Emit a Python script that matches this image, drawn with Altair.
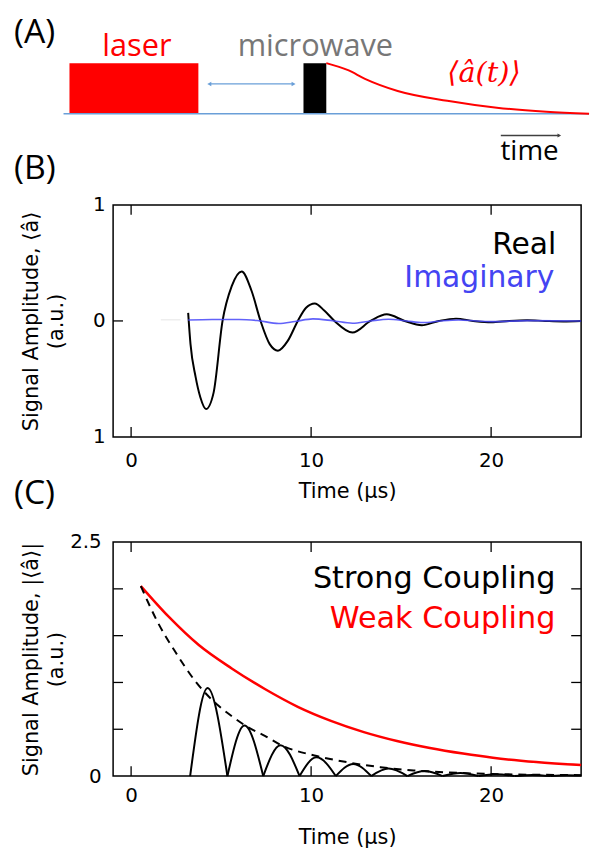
import altair as alt
import pandas as pd

# ---------------- Panel A : schematic pulse sequence (schematic time units) ----------------
pulse_names = ["laser", "microwave"]
pulse_start = [0.6, 24.2]
pulse_end = [13.6, 26.5]
pulse_top = [1.0, 1.0]
pulse_colors = ["#ff0000", "#000000"]
axis_span = [0.0, 53.0]
wait_span = [14.7, 23.2]
wait_level = [0.588]
decay_t = [26.5, 28.7, 30.4, 33.7, 38.7, 43.7, 48.7, 53.0]
decay_v = [1.0, 0.86, 0.69, 0.45, 0.255, 0.118, 0.04, 0.0]
time_arrow_span = [44.1, 50.0]
time_arrow_level = [-0.431]

# ---------------- Panel B : real / imaginary signal ----------------
real_t = [3.17, 3.30, 3.58, 3.85, 4.16, 4.58, 5.08, 5.59, 6.14, 6.69, 7.19, 7.70, 8.16,
          8.71, 9.26, 9.72, 10.2, 10.73, 11.3, 12.3, 13.3, 14.2, 15.2, 16.15, 17.1,
          18.05, 19.0, 20.0, 21.0, 22.0, 23.0, 24.0, 25.0]
real_v = [0.07, -0.20, -0.48, -0.66, -0.76, -0.62, 0.0, 0.30, 0.427, 0.26, 0.0, -0.20, -0.256,
          -0.17, 0.0, 0.114, 0.151, 0.09, 0.0, -0.10, 0.0, 0.057, 0.0, -0.037, 0.0,
          0.02, 0.0, -0.012, 0.0, 0.006, 0.0, -0.004, 0.0]
imag_t = [3.17, 4.5, 6.0, 7.0, 8.2, 9.1, 10.1, 11.2, 12.3, 13.3, 14.3, 15.3, 16.2,
          17.2, 18.2, 19.2, 20.2, 22.0, 25.0]
imag_v = [0.008, 0.012, 0.013, 0.004, -0.022, -0.005, 0.018, 0.002, -0.02, 0.0, 0.015, 0.0,
          -0.014, 0.0, 0.008, 0.0, -0.006, 0.003, 0.0]
trace_t = [1.65, 2.75]
trace_v = [0.01, 0.01]

# ---------------- Panel C : |<a>| strong vs weak coupling ----------------
weak_t = [0.54, 2.1, 3.76, 5.59, 7.43, 9.26, 11.1, 12.93, 14.77, 16.6, 18.44, 20.1, 22.5, 25.0]
weak_v = [2.03, 1.70, 1.40, 1.15, 0.93, 0.74, 0.59, 0.47, 0.375, 0.30, 0.24, 0.195, 0.15, 0.117]
env_t = [0.54, 1.46, 2.48, 3.58, 4.86, 5.59, 6.51, 7.43, 8.34, 10.18, 12.0, 13.85, 15.7,
         18.4, 20.1, 22.5, 25.0]
env_v = [2.03, 1.65, 1.32, 1.01, 0.75, 0.64, 0.52, 0.43, 0.33, 0.22, 0.148, 0.095, 0.06,
         0.032, 0.022, 0.014, 0.01]
strong_zero_t = [3.28, 5.35, 7.34, 9.36, 11.37, 13.34, 15.35, 17.3, 19.3, 21.3, 23.3, 25.0]
strong_zero_v = [0.0] * 11 + [0.005]
strong_peak_t = [4.25, 6.3, 8.3, 10.3, 12.34, 14.3, 16.3, 18.3, 20.3, 22.3, 24.2]
strong_peak_v = [0.94, 0.54, 0.33, 0.20, 0.13, 0.08, 0.053, 0.033, 0.02, 0.012, 0.008]

x_ticks = [0, 10, 20]
b_y_labels = [-1, 0, 1]
c_y_labels = [0, 2.5]
c_y_minor = [0.5, 1.0, 1.5, 2.0]

# ---------------- layout constants ----------------
W = 472
HA, HB, HC = 89, 234, 236
SANS = "DejaVu Sans"
LBL = "Open Sans"
BLUE_LINE = "#6a9fd8"

# ================= Panel A =================
xA = alt.Scale(domain=[5, 52.2], nice=False, zero=False)
yA = alt.Scale(domain=[0.2745, 2.0196], nice=False, zero=False)

pulses = pd.DataFrame({"name": pulse_names, "start": pulse_start, "end": pulse_end,
                       "top": pulse_top, "base": [0.0] * len(pulse_names)})
rects = alt.Chart(pulses).mark_rect(clip=False).encode(
    x=alt.X("start:Q", scale=xA, axis=None), x2="end:Q",
    y=alt.Y("base:Q", scale=yA, axis=None), y2="top:Q",
    color=alt.Color("name:N", scale=alt.Scale(domain=pulse_names, range=pulse_colors), legend=None),
)
base_df = pd.DataFrame({"a": [axis_span[0]], "b": [axis_span[1]], "y": [0.0]})
baseline = alt.Chart(base_df).mark_rule(color=BLUE_LINE, strokeWidth=1.5, clip=False).encode(
    x=alt.X("a:Q", scale=xA, axis=None), x2="b:Q", y=alt.Y("y:Q", scale=yA, axis=None))
wait_df = pd.DataFrame({"a": [wait_span[0]], "b": [wait_span[1]], "y": wait_level})
wait_rule = alt.Chart(wait_df).mark_rule(color=BLUE_LINE, strokeWidth=1.2, clip=False).encode(
    x=alt.X("a:Q", scale=xA, axis=None), x2="b:Q", y=alt.Y("y:Q", scale=yA, axis=None))
heads_df = pd.DataFrame({"u": wait_span, "y": wait_level * 2, "shape": ["triangle-left", "triangle-right"]})
wait_heads = alt.Chart(heads_df).mark_point(filled=True, size=22, color=BLUE_LINE, opacity=1, clip=False).encode(
    x=alt.X("u:Q", scale=xA, axis=None), y=alt.Y("y:Q", scale=yA, axis=None),
    shape=alt.Shape("shape:N", scale=None))
decay_df = pd.DataFrame({"u": decay_t, "v": decay_v})
decay = alt.Chart(decay_df).mark_line(color="#ff0000", strokeWidth=2, interpolate="monotone", clip=False).encode(
    x=alt.X("u:Q", scale=xA, axis=None), y=alt.Y("v:Q", scale=yA, axis=None))
tarrow_df = pd.DataFrame({"a": [time_arrow_span[0]], "b": [time_arrow_span[1]], "y": time_arrow_level})
tarrow = alt.Chart(tarrow_df).mark_rule(color="#404040", strokeWidth=1.5, clip=False).encode(
    x=alt.X("a:Q", scale=xA, axis=None), x2="b:Q", y=alt.Y("y:Q", scale=yA, axis=None))
thead_df = pd.DataFrame({"u": [time_arrow_span[1]], "y": time_arrow_level})
thead = alt.Chart(thead_df).mark_point(filled=True, size=18, color="#404040", opacity=1,
                                       shape="triangle-right", clip=False).encode(
    x=alt.X("u:Q", scale=xA, axis=None), y=alt.Y("y:Q", scale=yA, axis=None))


def a_text(label, u, v, **kw):
    df = pd.DataFrame({"label": [label], "u": [u], "v": [v]})
    return alt.Chart(df).mark_text(clip=False, **kw).encode(
        x=alt.X("u:Q", scale=xA, axis=None), y=alt.Y("v:Q", scale=yA, axis=None), text="label:N")


txtA = a_text("(A)", -5, 1.60, font=LBL, fontSize=34, align="left", baseline="middle", color="black")
txt_laser = a_text("laser", 7.4, 1.137, font=LBL, fontSize=31, align="center", baseline="alphabetic", color="#ff0000")
txt_mw = a_text("microwave", 25.4, 1.137, font=LBL, fontSize=31, align="center", baseline="alphabetic", color="#777777")
txt_a = a_text("⟨â(t)⟩", 42.4, 0.80, font="DejaVu Serif", fontStyle="italic", fontSize=29,
               align="center", baseline="middle", color="#ff0000")
txt_time = a_text("time", 47.0, -0.92, font=LBL, fontSize=28, align="center", baseline="alphabetic", color="black")

panelA = alt.layer(rects, baseline, wait_rule, wait_heads, decay, tarrow, thead,
                   txtA, txt_laser, txt_mw, txt_a, txt_time).properties(
    width=W, height=HA, view=alt.ViewBackground(strokeOpacity=0))

# ================= shared helpers for B and C =================
xBC = alt.Scale(domain=[-1, 25], nice=False, zero=False)


def x_axis(pad, ty):
    return alt.Axis(values=x_ticks, title="Time (μs)", domain=False, ticks=False, grid=False,
                    labelPadding=pad, titleY=ty, titleBaseline="middle")


def px_text(label, x, y, **kw):
    df = pd.DataFrame({"label": [label]})
    return alt.Chart(df).mark_text(clip=False, **kw).encode(x=alt.value(x), y=alt.value(y), text="label:N")


def x_tick_layers(h, xax):
    df = pd.DataFrame({"t": x_ticks})
    top = alt.Chart(df).mark_rule(color="black", strokeWidth=1.3).encode(
        x=alt.X("t:Q", scale=xBC, axis=xax), y=alt.value(0), y2=alt.value(10))
    bot = alt.Chart(df).mark_rule(color="black", strokeWidth=1.3).encode(
        x=alt.X("t:Q", scale=xBC, axis=xax), y=alt.value(h), y2=alt.value(h - 10))
    return [top, bot]


# ================= Panel B =================
yB = alt.Scale(domain=[-1, 1], nice=False, zero=False)
xB_axis = x_axis(14, 55)
yB_axis = alt.Axis(values=b_y_labels, labelExpr="abs(datum.value)", domain=False, ticks=False, grid=False,
                   labelPadding=8, title=["Signal Amplitude, ⟨â⟩", "(a.u.)"],
                   titleX=-72, titleY=HB / 2, titleBaseline="bottom", titleAlign="center",
                   titleLineHeight=25)

trace = alt.Chart(pd.DataFrame({"t": trace_t, "v": trace_v})).mark_line(
    color="#eeeeee", strokeWidth=1.5).encode(
    x=alt.X("t:Q", scale=xBC, axis=xB_axis), y=alt.Y("v:Q", scale=yB, axis=yB_axis))
real = alt.Chart(pd.DataFrame({"t": real_t, "v": real_v})).mark_line(
    color="black", strokeWidth=2, interpolate="monotone").encode(
    x=alt.X("t:Q", scale=xBC, axis=xB_axis), y=alt.Y("v:Q", scale=yB, axis=yB_axis))
imag = alt.Chart(pd.DataFrame({"t": imag_t, "v": imag_v})).mark_line(
    color="#4646f8", strokeWidth=1.6, opacity=0.85, interpolate="monotone").encode(
    x=alt.X("t:Q", scale=xBC, axis=xB_axis), y=alt.Y("v:Q", scale=yB, axis=yB_axis))
left_tick_B = alt.Chart(pd.DataFrame({"v": [0]})).mark_rule(color="black", strokeWidth=1.3).encode(
    y=alt.Y("v:Q", scale=yB, axis=yB_axis), x=alt.value(0), x2=alt.value(10))

legB1 = px_text("Real", 447, 49, font=SANS, fontSize=30, align="right", baseline="alphabetic", color="black")
legB2 = px_text("Imaginary", 445, 83, font=SANS, fontSize=30, align="right", baseline="alphabetic", color="#4444f2")
labB = px_text("(B)", -100, -36, font=LBL, fontSize=34, align="left", baseline="middle", color="black")

panelB = alt.layer(trace, real, imag, left_tick_B, *x_tick_layers(HB, xB_axis), legB1, legB2, labB).properties(
    width=W, height=HB)

# ================= Panel C =================
yC = alt.Scale(domain=[0, 2.5], nice=False, zero=False)
xC_axis = x_axis(10, 62)
yC_axis = alt.Axis(values=c_y_labels, format=".2~f", domain=False, ticks=False, grid=False, labelPadding=12,
                   title=["Signal Amplitude, |⟨â⟩|", "(a.u.)"],
                   titleX=-72, titleY=HC / 2, titleBaseline="bottom", titleAlign="center",
                   titleLineHeight=25)

weak = alt.Chart(pd.DataFrame({"t": weak_t, "v": weak_v})).mark_line(
    color="#ff0000", strokeWidth=2.5, interpolate="monotone").encode(
    x=alt.X("t:Q", scale=xBC, axis=xC_axis), y=alt.Y("v:Q", scale=yC, axis=yC_axis))
env = alt.Chart(pd.DataFrame({"t": env_t, "v": env_v})).mark_line(
    color="black", strokeWidth=2, strokeDash=[8, 6], interpolate="monotone").encode(
    x=alt.X("t:Q", scale=xBC, axis=xC_axis), y=alt.Y("v:Q", scale=yC, axis=yC_axis))

arch_rows = []
for k in range(len(strong_peak_t)):
    arch_rows.append({"arch": k, "t": strong_zero_t[k], "v": strong_zero_v[k]})
    arch_rows.append({"arch": k, "t": strong_peak_t[k], "v": strong_peak_v[k]})
    arch_rows.append({"arch": k, "t": strong_zero_t[k + 1], "v": strong_zero_v[k + 1]})
strong = alt.Chart(pd.DataFrame(arch_rows)).mark_line(
    color="black", strokeWidth=2, interpolate="monotone").encode(
    x=alt.X("t:Q", scale=xBC, axis=xC_axis), y=alt.Y("v:Q", scale=yC, axis=yC_axis),
    detail="arch:N")

minor_df = pd.DataFrame({"v": c_y_minor})
left_ticks_C = alt.Chart(minor_df).mark_rule(color="black", strokeWidth=1.3).encode(
    y=alt.Y("v:Q", scale=yC, axis=yC_axis), x=alt.value(0), x2=alt.value(10))
right_ticks_C = alt.Chart(minor_df).mark_rule(color="black", strokeWidth=1.3).encode(
    y=alt.Y("v:Q", scale=yC, axis=yC_axis), x=alt.value(W), x2=alt.value(W - 10))

legC1 = px_text("Strong Coupling", 446, 46, font=SANS, fontSize=30.5, align="right", baseline="alphabetic", color="black")
legC2 = px_text("Weak Coupling", 446, 87, font=SANS, fontSize=30.5, align="right", baseline="alphabetic", color="#ff0000")
labC = px_text("(C)", -100, -48, font=LBL, fontSize=34, align="left", baseline="middle", color="black")

panelC = alt.layer(weak, env, strong, left_ticks_C, right_ticks_C, *x_tick_layers(HC, xC_axis),
                   legC1, legC2, labC).properties(width=W, height=HC)

chart = alt.vconcat(panelA, panelB, panelC, spacing=106, bounds="flush").properties(
    padding={"left": 5, "top": 0, "right": 2, "bottom": 2}
).configure_view(stroke="black", strokeWidth=1.5).configure_axis(
    labelFont=SANS, labelFontSize=20, labelColor="black",
    titleFont=SANS, titleFontSize=21, titleFontWeight="normal", titleColor="black"
)

chart.save("out.html", embed_options={"renderer": "svg", "actions": False})
